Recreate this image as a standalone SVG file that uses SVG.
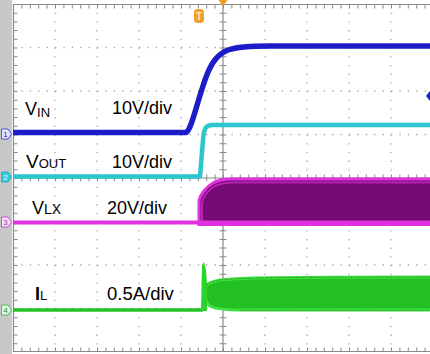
<svg xmlns="http://www.w3.org/2000/svg" width="430" height="354" viewBox="0 0 430 354">
<defs>
<style>
.grid{stroke:#a9a9a9;stroke-width:1.3;fill:none}
.gh{stroke-dasharray:1.3 7.1}
.gv{stroke-dasharray:1.3 7.4}
.border{stroke:#8a8a8a;stroke-width:1.2;fill:none}
.tick{stroke:#8a8a8a;stroke-width:4;fill:none}
.lbl{font-family:"Liberation Sans",Arial,sans-serif;fill:#000}
.mk{font-family:"Liberation Sans",Arial,sans-serif;font-size:8px;text-anchor:middle}
</style>
</defs>
<rect width="430" height="354" fill="#fff"/>
<rect x="0" y="0" width="12" height="354" fill="#c8c8c8"/>

<g id="graticule">
  <g class="grid gv">
    <line x1="55" y1="4" x2="55" y2="352"/>
    <line x1="97" y1="4" x2="97" y2="352"/>
    <line x1="139" y1="4" x2="139" y2="352"/>
    <line x1="181" y1="4" x2="181" y2="352"/>
    <line x1="265" y1="4" x2="265" y2="352"/>
    <line x1="307" y1="4" x2="307" y2="352"/>
    <line x1="349" y1="4" x2="349" y2="352"/>
    <line x1="391" y1="4" x2="391" y2="352"/>
  </g>
  <g class="grid gh">
    <line x1="13" y1="47.5" x2="430" y2="47.5"/>
    <line x1="13" y1="91" x2="430" y2="91"/>
    <line x1="13" y1="134.5" x2="430" y2="134.5"/>
    <line x1="13" y1="221.5" x2="430" y2="221.5"/>
    <line x1="13" y1="265" x2="430" y2="265"/>
    <line x1="13" y1="308.5" x2="430" y2="308.5"/>
  </g>
  <g class="border">
    <line x1="13.5" y1="4" x2="13.5" y2="352"/>
    <line x1="13" y1="4.5" x2="430" y2="4.5"/>
    <line x1="13" y1="351.5" x2="430" y2="351.5"/>
    <line x1="223" y1="4" x2="223" y2="352"/>
    <line x1="13" y1="178" x2="430" y2="178"/>
  </g>
  <g class="tick">
    <line x1="13" y1="6.5" x2="430" y2="6.5" stroke-dasharray="1 7.4"/>
    <line x1="13" y1="349.5" x2="430" y2="349.5" stroke-dasharray="1 7.4"/>
    <line x1="15.5" y1="4" x2="15.5" y2="352" stroke-dasharray="1 7.7"/>
    <line x1="223" y1="4" x2="223" y2="352" stroke-dasharray="1 7.7" stroke-width="7"/>
    <line x1="13" y1="178" x2="430" y2="178" stroke-dasharray="1 7.4" stroke-width="7"/>
  </g>
</g>

<g id="trace-vin">
  <path d="M13,132.5 H186 C191,130 195,110 203,86 C209,67 215,55 228,50 C238,46.5 250,46 270,46 H430" fill="none" stroke="#1c1cc8" stroke-width="5.5" stroke-linejoin="round"/>
  <path d="M430,91 L434,96 L430,101 L426,96 Z" fill="#1c1cc8"/>
</g>

<g id="trace-vout">
  <path d="M13,176.5 H200 L203,140 C204,128 206,125 212,125 H430" fill="none" stroke="#2cc6cc" stroke-width="4.5" stroke-linejoin="round"/>
</g>

<g id="trace-vlx">
  <path d="M13,222.5 H200" fill="none" stroke="#e030e0" stroke-width="4"/>
  <path d="M199,224.5 V201 C200,195 206,187 213,183 C218,180 224,179 232,179 H432 V224.5 Z" fill="#760a76" stroke="#e030e0" stroke-width="3"/>
  <path d="M202,222 V203 C203,197 208,190 215,186 C220,183.5 226,182.5 234,182.5 H432" fill="none" stroke="#b324b3" stroke-width="2"/>
  <line x1="199" y1="222.5" x2="432" y2="222.5" stroke="#e030e0" stroke-width="4"/>
</g>

<g id="trace-il">
  <path d="M13,310 H203" fill="none" stroke="#22c422" stroke-width="3.5"/>
  <path d="M205,286 C208,283 212,281.5 220,280 C240,278 260,277 432,277 V310 H240 C225,310 215,308.5 210,306 C206,303 205,298 205,292 Z" fill="#22c022" stroke="#3ee03e" stroke-width="3"/>
  <path d="M205,286 C208,283 212,281.5 220,280 C240,278 260,277 432,277" fill="none" stroke="#1b7a1b" stroke-width="1" stroke-dasharray="1 1.5"/>
  <path d="M240,310.5 H432" fill="none" stroke="#1b7a1b" stroke-width="1" stroke-dasharray="1 1.5"/>
  <polygon points="201,311 202,265 204,262 206,270 207,285 207,311" fill="#2ad42a"/>
</g>

<g id="markers">
  <g id="m1"><path d="M1.5,129 H8 L11.5,134 L8,139 H1.5 Z" fill="#e4e4ff" stroke="#3030d0" stroke-width="0.8"/><text class="mk" x="5.5" y="137" fill="#2020c0">1</text></g>
  <g id="m2"><path d="M1.5,172 H8 L11.5,177 L8,182 H1.5 Z" fill="#38c8d8" stroke="#20a8b8" stroke-width="0.8"/><text class="mk" x="5.5" y="180" fill="#e0ffff">2</text></g>
  <g id="m3"><path d="M1.5,217 H8 L11.5,222 L8,227 H1.5 Z" fill="#f4e4f8" stroke="#c030c0" stroke-width="0.8"/><text class="mk" x="5.5" y="225" fill="#b020b0">3</text></g>
  <g id="m4"><path d="M1.5,305 H8 L11.5,310 L8,315 H1.5 Z" fill="#e4f8e4" stroke="#30b030" stroke-width="0.8"/><text class="mk" x="5.5" y="313" fill="#209020">4</text></g>
</g>

<g id="trigger">
  <polygon points="218.5,0 227.5,0 223,6" fill="#f09a20"/>
  <rect x="194" y="9" width="10" height="14" rx="3.5" fill="#f0a030"/>
  <text x="199" y="19.5" font-family="Liberation Sans,Arial,sans-serif" font-size="10" font-weight="bold" text-anchor="middle" fill="#ffe6b0">T</text>
</g>

<g id="labels">
  <g id="lbl-vin"><text class="lbl" x="25" y="115" font-size="18">V<tspan font-size="13" dy="2">IN</tspan></text>
    <text class="lbl" x="112" y="114" font-size="18">10V/div</text></g>
  <g id="lbl-vout"><text class="lbl" x="26" y="168" font-size="19">V<tspan font-size="13">OUT</tspan></text>
    <text class="lbl" x="112" y="168" font-size="18">10V/div</text></g>
  <g id="lbl-vlx"><text class="lbl" x="32" y="214" font-size="18">V<tspan font-size="14">LX</tspan></text>
    <text class="lbl" x="107" y="214" font-size="18">20V/div</text></g>
  <g id="lbl-il"><text class="lbl" x="35" y="300" font-size="18" font-weight="bold">I<tspan font-size="13" font-weight="normal">L</tspan></text>
    <text class="lbl" x="107" y="300" font-size="18.5">0.5A/div</text></g>
</g>
</svg>
